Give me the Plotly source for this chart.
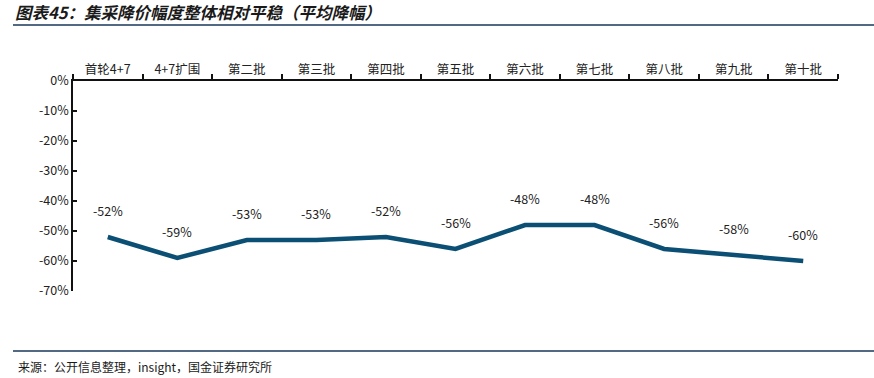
import plotly.graph_objects as go

categories = ["首轮4+7", "4+7扩围", "第二批", "第三批", "第四批", "第五批",
              "第六批", "第七批", "第八批", "第九批", "第十批"]
values = [-52, -59, -53, -53, -52, -56, -48, -48, -56, -58, -60]
labels = [f"{v}%" for v in values]
y_ticks = [0, -10, -20, -30, -40, -50, -60, -70]
y_tick_text = [f"{t}%" for t in y_ticks]

FONT = "Noto Sans CJK SC"
LINE_COLOR = "#0b4f74"

fig = go.Figure()
fig.add_trace(go.Scatter(
    x=categories, y=values, mode="lines",
    line=dict(color=LINE_COLOR, width=4.5),
    hoverinfo="skip", showlegend=False,
))

for c, v, t in zip(categories, values, labels):
    fig.add_annotation(x=c, y=v, text=t, showarrow=False, yshift=27,
                       font=dict(family=FONT, size=12.5, color="#222222"))

fig.update_layout(
    width=874, height=378,
    margin=dict(l=73, r=36, t=81, b=87),
    paper_bgcolor="white", plot_bgcolor="white",
    font=dict(family=FONT, size=12, color="#222222"),
    xaxis=dict(
        type="category", side="top", showgrid=False, zeroline=False,
        showline=True, linecolor="#111111", linewidth=1.5,
        ticks="outside", ticklen=5, tickcolor="#111111", tickwidth=1.5,
        tickson="boundaries", range=[-0.5, 10.5], automargin=False,
        tickfont=dict(family=FONT, size=12.5, color="#222222"),
    ),
    yaxis=dict(
        range=[-70, 0], tickvals=y_ticks, ticktext=y_tick_text,
        showgrid=False, zeroline=False, automargin=False,
        showline=True, linecolor="#111111", linewidth=1.5,
        ticks="inside", ticklen=4, tickcolor="#111111", tickwidth=1.5,
        tickfont=dict(family=FONT, size=12.5, color="#222222"),
    ),
    shapes=[
        dict(type="line", xref="paper", yref="paper", x0=-60/765, x1=(874-73)/765,
             y0=1 + (81-25)/210, y1=1 + (81-25)/210,
             line=dict(color="#17375a", width=1.3)),
        dict(type="line", xref="paper", yref="paper", x0=-60/765, x1=(874-73)/765,
             y0=-(351-291)/210, y1=-(351-291)/210,
             line=dict(color="#17375a", width=1.3)),
    ],
)

fig.add_annotation(xref="paper", yref="paper", x=-60/765, y=1 + (81-12)/210,
                   xanchor="left", yanchor="middle", showarrow=False,
                   text="<b><i>图表45：集采降价幅度整体相对平稳（平均降幅）</i></b>",
                   font=dict(family=FONT, size=16.5, color="#1a1a1a"))
fig.add_annotation(xref="paper", yref="paper", x=-57/765, y=-(366-291)/210,
                   xanchor="left", yanchor="middle", showarrow=False,
                   text="来源：公开信息整理，insight，国金证券研究所",
                   font=dict(family=FONT, size=12, color="#1a1a1a"))

fig.write_html("out.html", config={"displayModeBar": False},
               post_script="document.body.style.margin='0';document.body.style.padding='0';")
